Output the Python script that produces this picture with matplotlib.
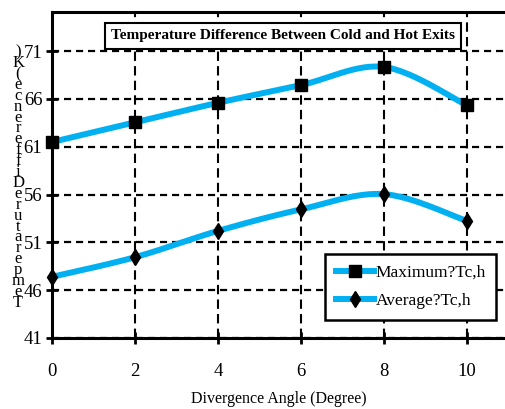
import numpy as np
import matplotlib
matplotlib.use("Agg")
import matplotlib.pyplot as plt
from matplotlib.lines import Line2D

angle = [0, 2, 4, 6, 8, 10]
dT_max = [61.5, 63.55, 65.6, 67.45, 69.35, 65.35]
dT_avg = [47.4, 49.45, 52.2, 54.45, 56.05, 53.25]
yticks = [41, 46, 51, 56, 61, 66, 71]
xticks = [0, 2, 4, 6, 8, 10]
ylabel = "Temperature Difference (K)"

plt.rcParams['font.family'] = ['Liberation Serif', 'DejaVu Serif']
blue = '#00b0f0'


def smooth(xs, ys, n=30):
    # catmull-rom curve through the points, like a smoothed excel line
    xs = np.asarray(xs, float)
    ys = np.asarray(ys, float)
    px = np.concatenate([[xs[0]], xs, [xs[-1]]])
    py = np.concatenate([[ys[0]], ys, [ys[-1]]])
    outx, outy = [], []
    t = np.linspace(0, 1, n)
    for i in range(1, len(px) - 2):
        p0, p1, p2, p3 = px[i - 1], px[i], px[i + 1], px[i + 2]
        q0, q1, q2, q3 = py[i - 1], py[i], py[i + 1], py[i + 2]
        c1x, c1y = p1 + (p2 - p0) / 6, q1 + (q2 - q0) / 6
        c2x, c2y = p2 - (p3 - p1) / 6, q2 - (q3 - q1) / 6
        bx = (1-t)**3*p1 + 3*(1-t)**2*t*c1x + 3*(1-t)*t**2*c2x + t**3*p2
        by = (1-t)**3*q1 + 3*(1-t)**2*t*c1y + 3*(1-t)*t**2*c2y + t**3*q2
        outx.extend(bx)
        outy.extend(by)
    return np.array(outx), np.array(outy)


fig = plt.figure(figsize=(5.05, 4.09), dpi=100)
ax = fig.add_axes([0.103, 0.1736, 0.897, 0.7971])

for ys, mk, ms in [(dT_max, 's', 8), (dT_avg, 'd', 8)]:
    sx, sy = smooth(angle, ys)
    ax.plot(sx, sy, color=blue, lw=4.3, solid_capstyle='butt', zorder=3)
    ax.plot(angle, ys, ls='none', marker=mk, ms=ms, color='black', zorder=4, clip_on=False)

ax.set_xlim(0, 10.92)
ax.set_ylim(41, 75.1)
ax.set_xticks(xticks)
ax.set_yticks(yticks)
ax.xaxis.grid(True, color='black', ls=(0, (4.5, 2.5)), lw=1.5)
ax.yaxis.grid(True, color='black', ls=(0, (3.2, 2.2)), lw=1.6)
ax.set_axisbelow(True)
ax.spines['right'].set_visible(False)
for s in ['left', 'bottom', 'top']:
    ax.spines[s].set_linewidth(2.2)
ax.tick_params(axis='both', direction='inout', length=8, width=2, labelsize=13.5)
ax.tick_params(axis='x', pad=14)
ax.tick_params(axis='y', pad=3)
ax.set_xlabel('Divergence Angle (Degree)', fontsize=11.5, labelpad=8)

# stacked y-axis label, characters upright
stacked = "\n".join(reversed(ylabel.replace(" ", "")))
fig.text(0.036, 0.566, stacked, fontsize=12, linespacing=0.575,
         ha='center', va='center')

fig.text(0.561, 0.912, 'Temperature Difference Between Cold and Hot Exits',
         fontsize=11, fontweight='bold', ha='center', va='center',
         bbox=dict(boxstyle='square,pad=0.4', fc='white', ec='black', lw=1.5))

handles = [Line2D([], [], color=blue, lw=4.3, marker='s', ms=8, mfc='black', mec='black'),
           Line2D([], [], color=blue, lw=4.3, marker='d', ms=8, mfc='black', mec='black')]
leg = ax.legend(handles, ['Maximum?Tc,h', 'Average?Tc,h'], loc='lower right',
                bbox_to_anchor=(1.0, 0.03), fontsize=12.5, frameon=True,
                fancybox=False, handlelength=2.2, handletextpad=0.1,
                borderpad=0.6, labelspacing=0.7)
leg.get_frame().set_edgecolor('black')
leg.get_frame().set_linewidth(1.8)
leg.get_frame().set_alpha(1)

fig.savefig('out.png', dpi=100)
